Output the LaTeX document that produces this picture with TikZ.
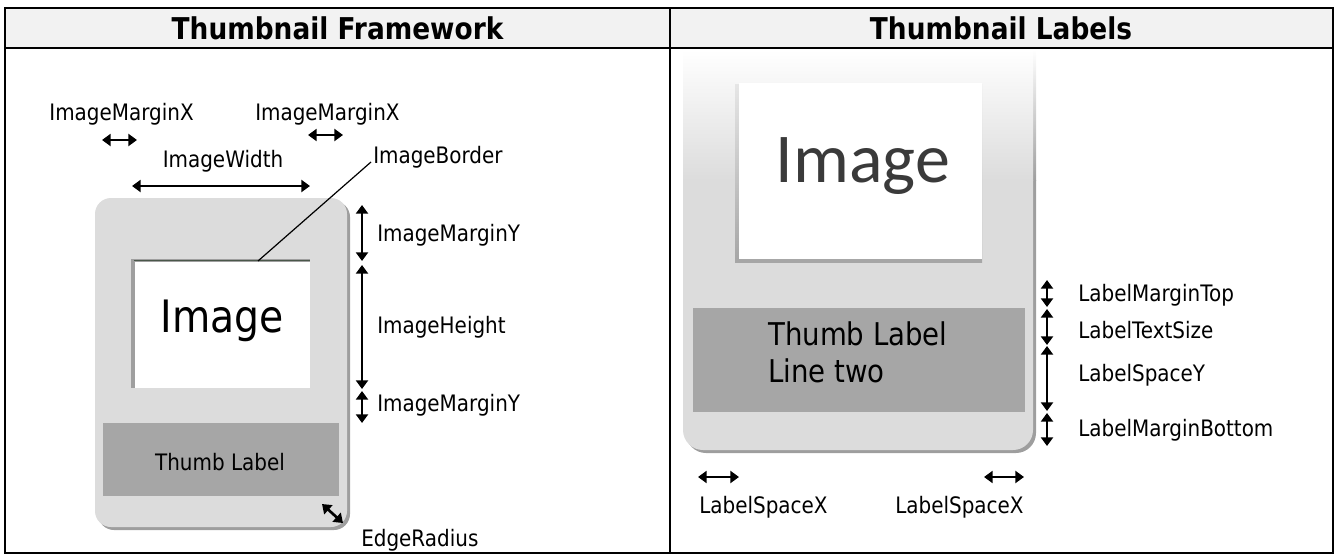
\documentclass[tikz,border=0pt]{standalone}
\usepackage{fontspec}
\setmainfont{DejaVu Sans}[FakeStretch=0.88]
\newfontfamily\imgfont{Carlito}
\usetikzlibrary{arrows.meta}
\definecolor{boxgray}{HTML}{DCDCDC}
\definecolor{shadowgray}{HTML}{9E9E9E}
\definecolor{labelgray}{HTML}{A6A6A6}
\definecolor{headgray}{HTML}{F2F2F2}
\definecolor{bordergreen}{HTML}{4A574A}
\definecolor{imgtext}{HTML}{3A3A3A}
\tikzset{
  lbl/.style={font=\fontsize{17}{20}\selectfont, inner sep=0pt},
  headtxt/.style={font=\bfseries\fontsize{22.5}{26}\selectfont, inner sep=0pt},
  dimarrow/.style={line width=2pt, {Triangle[length=6.5pt,width=9pt]}-{Triangle[length=6.5pt,width=9pt]}},
  frameline/.style={line width=2.2pt},
}
\begin{document}
\begin{tikzpicture}[x=0.75pt,y=-0.75pt]
\useasboundingbox (0,0) rectangle (1338,560);
% table
\fill[headgray] (5,8) rectangle (1333,48);
\draw[frameline] (5,8) rectangle (1333,553);
\draw[frameline] (5,48) -- (1333,48);
\draw[frameline] (670,8) -- (670,553);
\node[headtxt] (h1) at (337.5,28) {Thumbnail Framework};
\node[headtxt] (h2) at (1001,28) {Thumbnail Labels};

% ---------- left panel ----------
\fill[shadowgray, rounded corners=12pt] (98,201) rectangle (350,530);
\fill[boxgray, rounded corners=12pt] (95,198) rectangle (347,527);
\fill[gray!75] (131,259) rectangle (310,388);
\fill[white] (135,262) rectangle (310,388);
\draw[bordergreen, line width=1.4pt] (134,260.5) -- (310,260.5);
\node[inner sep=0pt, font=\fontsize{33.5}{38}\selectfont] (img1) at (222,321) {Image};
\fill[labelgray] (103,423) rectangle (339,496);
\node[lbl] (tl1) at (220,462) {Thumb Label};

\node[lbl] (mx1) at (121.5,114) {ImageMarginX};
\node[lbl, anchor=west] (mx2) at (255,114) {ImageMarginX};
\node[lbl] (iw) at (223,161) {ImageWidth};
\node[lbl, anchor=west] (ib) at (373,157) {ImageBorder};
\node[lbl, anchor=west] (my1) at (377,235) {ImageMarginY};
\node[lbl, anchor=west] (ih) at (377,327) {ImageHeight};
\node[lbl, anchor=west] (my2) at (377,405) {ImageMarginY};
\node[lbl, anchor=west] (er) at (361,540) {EdgeRadius};

\coordinate (mx1a) at (102,140); \coordinate (mx1b) at (137,140);
\coordinate (mx2a) at (308,135); \coordinate (mx2b) at (343,135);
\coordinate (iwa) at (132,186);  \coordinate (iwb) at (310,186);
\coordinate (my1a) at (362,205); \coordinate (my1b) at (362,261);
\coordinate (iha) at (362,265);  \coordinate (ihb) at (362,389);
\coordinate (my2a) at (362,391); \coordinate (my2b) at (362,423);
\coordinate (era) at (322,504);  \coordinate (erb) at (343,523);
\coordinate (brd) at (258,261);  \coordinate (brdend) at (371,162);
\draw[dimarrow] (mx1a) -- (mx1b);
\draw[dimarrow] (mx2a) -- (mx2b);
\draw[dimarrow] (iwa) -- (iwb);
\draw[dimarrow] (my1a) -- (my1b);
\draw[dimarrow] (iha) -- (ihb);
\draw[dimarrow] (my2a) -- (my2b);
\draw[dimarrow] (era) -- (erb);
\draw[line width=0.9pt] (brd) -- (brdend);

% ---------- right panel ----------
\fill[shadowgray] (686,180) [rounded corners=15pt] -- (686,453) -- (1036,453) [sharp corners] -- (1036,180) -- cycle;
\shade[top color=white, bottom color=shadowgray] (686,49.5) rectangle (1036,180.5);
\fill[boxgray] (683,180) [rounded corners=15pt] -- (683,450) -- (1033,450) [sharp corners] -- (1033,180) -- cycle;
\shade[top color=white, bottom color=boxgray] (683,49.5) rectangle (1033,180.5);
\shade[top color=gray!20, bottom color=gray!70] (735,85) rectangle (982,262);
\fill[white] (739,83) rectangle (982,259);
\node[inner sep=0pt, font=\imgfont\fontsize{52.5}{60}\selectfont, text=imgtext] (img2) at (863,166) {Image};
\fill[labelgray] (693,308) rectangle (1025,412);
\node[inner sep=0pt, anchor=west, align=left, font=\fontsize{23.5}{27.8}\selectfont] (tl2) at (768,352) {Thumb Label\\Line two};

\node[lbl, anchor=west] (lmt) at (1078,295) {LabelMarginTop};
\node[lbl, anchor=west] (lts) at (1078,330) {LabelTextSize};
\node[lbl, anchor=west] (lsy) at (1078,375) {LabelSpaceY};
\node[lbl, anchor=west] (lmb) at (1078,430) {LabelMarginBottom};
\node[lbl, anchor=west] (lsx1) at (699,507) {LabelSpaceX};
\node[lbl, anchor=west] (lsx2) at (895,507) {LabelSpaceX};

\coordinate (lmta) at (1047,280); \coordinate (lmtb) at (1047,307);
\coordinate (ltsa) at (1047,309); \coordinate (ltsb) at (1047,345);
\coordinate (lsya) at (1047,346); \coordinate (lsyb) at (1047,411);
\coordinate (lmba) at (1047,413); \coordinate (lmbb) at (1047,446);
\coordinate (sx1a) at (698,477);  \coordinate (sx1b) at (739,477);
\coordinate (sx2a) at (984,477);  \coordinate (sx2b) at (1024,477);
\draw[dimarrow] (lmta) -- (lmtb);
\draw[dimarrow] (ltsa) -- (ltsb);
\draw[dimarrow] (lsya) -- (lsyb);
\draw[dimarrow] (lmba) -- (lmbb);
\draw[dimarrow] (sx1a) -- (sx1b);
\draw[dimarrow] (sx2a) -- (sx2b);
\end{tikzpicture}
\end{document}
